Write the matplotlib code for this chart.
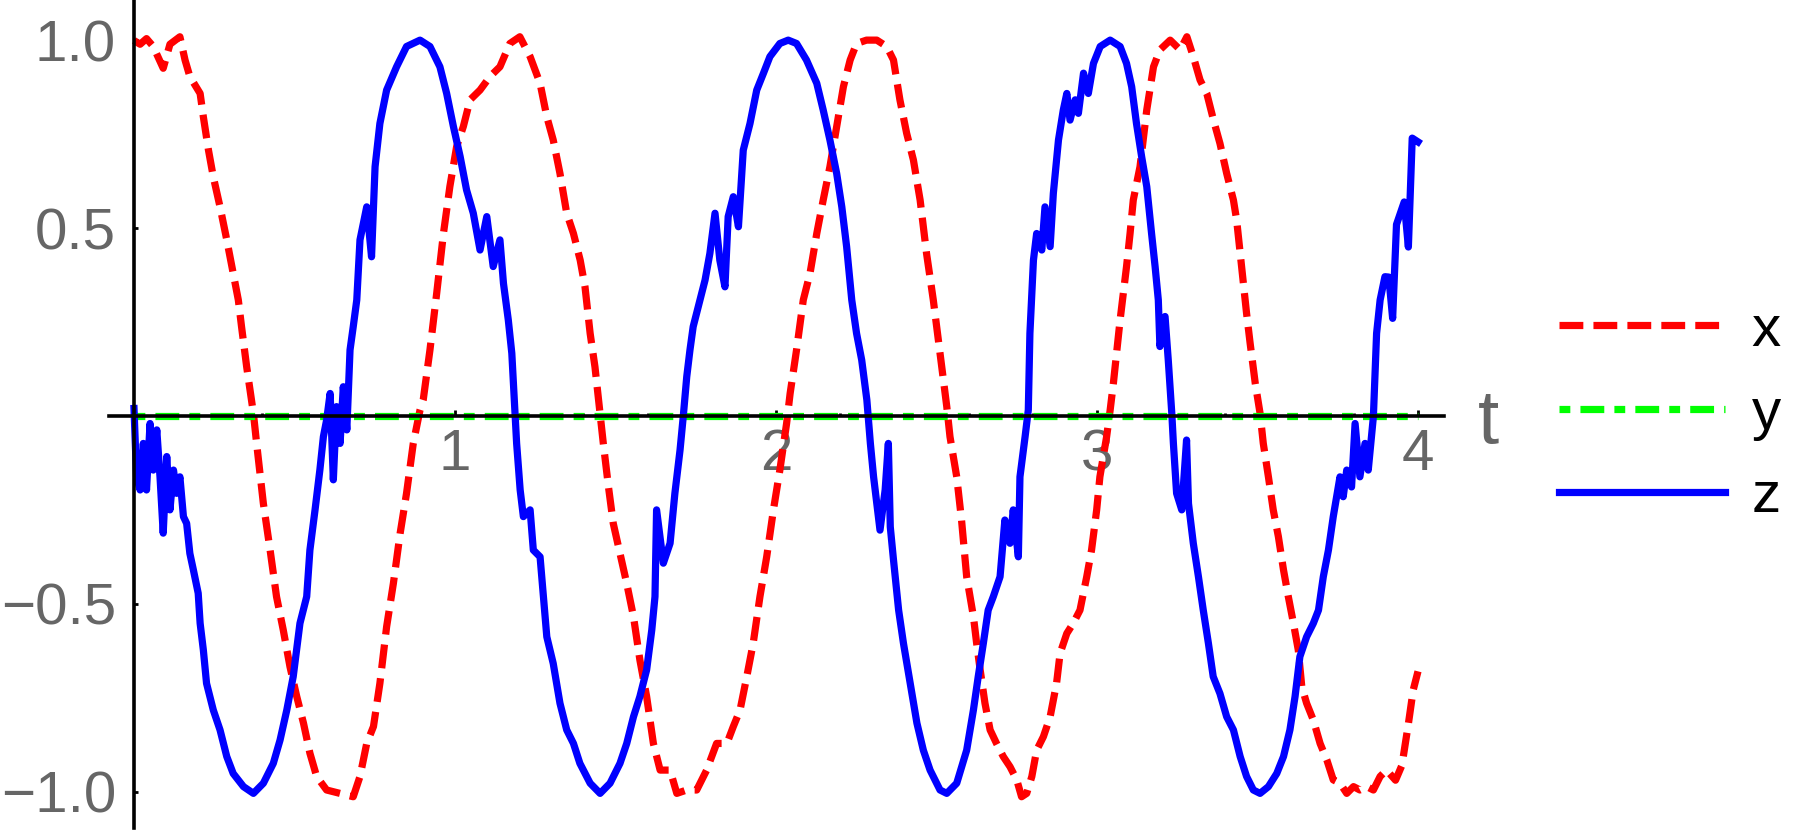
import numpy as np
import matplotlib
matplotlib.use("Agg")
import matplotlib.pyplot as plt
from matplotlib.ticker import MultipleLocator

plt.rcParams['font.family'] = ['Liberation Sans', 'DejaVu Sans']

# x(t): red dashed
x_t = np.array([
    0.000, 0.019, 0.039, 0.060, 0.091, 0.112, 0.143, 0.159, 0.174, 0.206,
    0.216, 0.232, 0.247, 0.268, 0.289, 0.309, 0.325, 0.335, 0.351, 0.372,
    0.382, 0.403, 0.424, 0.444, 0.465, 0.486, 0.507, 0.528, 0.548, 0.569,
    0.600, 0.642, 0.683, 0.704, 0.725, 0.746, 0.766, 0.787, 0.808, 0.829,
    0.849, 0.870, 0.891, 0.901, 0.922, 0.943, 0.964, 0.984, 1.005, 1.026,
    1.047, 1.078, 1.109, 1.140, 1.171, 1.202, 1.234, 1.265, 1.286, 1.306,
    1.327, 1.348, 1.369, 1.390, 1.405, 1.421, 1.436, 1.452, 1.462, 1.478,
    1.493, 1.514, 1.535, 1.556, 1.576, 1.597, 1.618, 1.639, 1.670, 1.691,
    1.722, 1.753, 1.784, 1.815, 1.847, 1.867, 1.888, 1.909, 1.929, 1.950,
    1.971, 1.992, 2.012, 2.033, 2.044, 2.064, 2.085, 2.106, 2.127, 2.147,
    2.168, 2.189, 2.210, 2.231, 2.251, 2.282, 2.314, 2.345, 2.366, 2.386,
    2.407, 2.428, 2.449, 2.469, 2.490, 2.511, 2.532, 2.542, 2.563, 2.578,
    2.594, 2.615, 2.625, 2.636, 2.651, 2.667, 2.687, 2.708, 2.729, 2.750,
    2.765, 2.781, 2.797, 2.812, 2.833, 2.854, 2.874, 2.885, 2.906, 2.926,
    2.947, 2.968, 2.983, 2.999, 3.009, 3.030, 3.041, 3.051, 3.072, 3.092,
    3.103, 3.113, 3.134, 3.155, 3.176, 3.196, 3.228, 3.259, 3.280, 3.300,
    3.321, 3.342, 3.363, 3.383, 3.404, 3.425, 3.435, 3.446, 3.456, 3.466,
    3.477, 3.493, 3.508, 3.518, 3.534, 3.549, 3.565, 3.581, 3.596, 3.612,
    3.627, 3.638, 3.653, 3.674, 3.695, 3.716, 3.736, 3.757, 3.778, 3.799,
    3.819, 3.840, 3.861, 3.882, 3.902, 3.930, 3.950, 3.970, 3.985, 4.000])
x_vals = np.array([
    1.000, 0.990, 1.005, 0.984, 0.926, 0.990, 1.010, 0.948, 0.904, 0.859,
    0.797, 0.708, 0.637, 0.557, 0.469, 0.380, 0.309, 0.238, 0.131, 0.007,
    -0.073, -0.233, -0.357, -0.481, -0.570, -0.668, -0.747, -0.818, -0.898, -0.960,
    -0.996, -1.005, -1.014, -0.960, -0.872, -0.827, -0.712, -0.561, -0.446, -0.313,
    -0.206, -0.073, 0.016, 0.043, 0.176, 0.327, 0.486, 0.611, 0.717, 0.771,
    0.842, 0.868, 0.904, 0.930, 0.992, 1.010, 0.957, 0.886, 0.797, 0.735,
    0.646, 0.540, 0.486, 0.415, 0.344, 0.220, 0.131, 0.007, -0.073, -0.188,
    -0.286, -0.366, -0.446, -0.534, -0.650, -0.747, -0.872, -0.943, -0.943, -1.005,
    -0.996, -0.996, -0.943, -0.872, -0.872, -0.827, -0.783, -0.694, -0.605, -0.481,
    -0.375, -0.250, -0.144, -0.020, 0.060, 0.176, 0.309, 0.380, 0.486, 0.575,
    0.664, 0.771, 0.877, 0.948, 0.992, 1.001, 1.001, 0.984, 0.948, 0.842,
    0.753, 0.682, 0.575, 0.433, 0.309, 0.167, 0.025, -0.055, -0.162, -0.277,
    -0.428, -0.534, -0.605, -0.676, -0.765, -0.836, -0.872, -0.907, -0.934, -0.969,
    -1.014, -1.005, -0.960, -0.890, -0.854, -0.801, -0.712, -0.632, -0.579, -0.552,
    -0.517, -0.428, -0.357, -0.250, -0.162, -0.055, 0.016, 0.087, 0.256, 0.398,
    0.486, 0.575, 0.664, 0.815, 0.930, 0.975, 1.001, 0.975, 1.010, 0.957,
    0.895, 0.859, 0.788, 0.726, 0.646, 0.575, 0.522, 0.433, 0.353, 0.273,
    0.194, 0.087, 0.007, -0.073, -0.162, -0.250, -0.321, -0.410, -0.481, -0.552,
    -0.623, -0.721, -0.765, -0.810, -0.872, -0.916, -0.969, -0.978, -1.005, -0.987,
    -0.996, -0.987, -0.996, -0.960, -0.943, -0.970, -0.930, -0.820, -0.730, -0.680])

# y(t): green dash-dot, stays on zero
y_t = np.array([0.0, 4.0])
y_vals = np.array([0.0, 0.0])

# z(t): blue solid
z_t = np.array([
    0.000, 0.008, 0.019, 0.029, 0.039, 0.050, 0.060, 0.071, 0.081, 0.091,
    0.102, 0.112, 0.123, 0.133, 0.143, 0.154, 0.164, 0.174, 0.185, 0.200,
    0.206, 0.216, 0.226, 0.247, 0.268, 0.289, 0.309, 0.341, 0.372, 0.403,
    0.434, 0.455, 0.476, 0.496, 0.517, 0.538, 0.548, 0.564, 0.579, 0.590,
    0.600, 0.611, 0.621, 0.631, 0.642, 0.652, 0.663, 0.673, 0.683, 0.694,
    0.704, 0.725, 0.740, 0.751, 0.766, 0.787, 0.818, 0.849, 0.891, 0.922,
    0.953, 0.974, 0.995, 1.016, 1.036, 1.057, 1.078, 1.099, 1.119, 1.140,
    1.151, 1.166, 1.177, 1.187, 1.192, 1.203, 1.213, 1.234, 1.244, 1.265,
    1.286, 1.306, 1.327, 1.348, 1.369, 1.389, 1.421, 1.452, 1.483, 1.514,
    1.535, 1.556, 1.576, 1.597, 1.613, 1.623, 1.628, 1.649, 1.670, 1.685,
    1.701, 1.711, 1.722, 1.732, 1.742, 1.763, 1.779, 1.794, 1.810, 1.825,
    1.841, 1.851, 1.867, 1.883, 1.898, 1.919, 1.940, 1.961, 1.981, 2.012,
    2.038, 2.064, 2.095, 2.127, 2.147, 2.168, 2.189, 2.205, 2.220, 2.236,
    2.251, 2.267, 2.283, 2.294, 2.304, 2.324, 2.340, 2.350, 2.356, 2.366,
    2.382, 2.397, 2.418, 2.439, 2.459, 2.480, 2.511, 2.532, 2.563, 2.594,
    2.615, 2.630, 2.646, 2.661, 2.677, 2.698, 2.713, 2.729, 2.739, 2.755,
    2.760, 2.776, 2.786, 2.791, 2.802, 2.812, 2.828, 2.838, 2.854, 2.864,
    2.880, 2.895, 2.906, 2.916, 2.932, 2.942, 2.958, 2.973, 2.989, 3.010,
    3.041, 3.072, 3.092, 3.108, 3.123, 3.139, 3.155, 3.170, 3.181, 3.191,
    3.196, 3.212, 3.222, 3.233, 3.238, 3.248, 3.264, 3.279, 3.285, 3.300,
    3.316, 3.331, 3.347, 3.362, 3.383, 3.404, 3.425, 3.446, 3.466, 3.487,
    3.508, 3.534, 3.560, 3.581, 3.601, 3.617, 3.632, 3.653, 3.674, 3.690,
    3.705, 3.721, 3.736, 3.757, 3.767, 3.778, 3.793, 3.804, 3.819, 3.835,
    3.845, 3.861, 3.871, 3.882, 3.897, 3.909, 3.921, 3.933, 3.957, 3.970,
    3.982, 4.000])
z_vals = np.array([
    0.020, -0.162, -0.197, -0.073, -0.197, -0.020, -0.144, -0.037, -0.162, -0.312,
    -0.108, -0.250, -0.144, -0.206, -0.162, -0.268, -0.286, -0.366, -0.410, -0.472,
    -0.552, -0.623, -0.712, -0.783, -0.836, -0.907, -0.952, -0.987, -1.005, -0.978,
    -0.925, -0.863, -0.783, -0.694, -0.552, -0.481, -0.357, -0.250, -0.144, -0.055,
    -0.011, 0.060, -0.170, 0.025, -0.073, 0.078, -0.037, 0.176, 0.238, 0.309,
    0.469, 0.557, 0.424, 0.664, 0.779, 0.868, 0.930, 0.984, 1.001, 0.984,
    0.930, 0.859, 0.771, 0.691, 0.602, 0.540, 0.442, 0.531, 0.398, 0.469,
    0.353, 0.256, 0.167, 0.007, -0.073, -0.197, -0.268, -0.250, -0.357, -0.375,
    -0.588, -0.659, -0.765, -0.836, -0.872, -0.925, -0.978, -1.005, -0.978, -0.925,
    -0.872, -0.801, -0.747, -0.676, -0.570, -0.481, -0.250, -0.392, -0.339, -0.206,
    -0.091, -0.002, 0.105, 0.176, 0.238, 0.309, 0.362, 0.433, 0.540, 0.415,
    0.344, 0.531, 0.584, 0.504, 0.708, 0.779, 0.868, 0.913, 0.957, 0.992,
    1.001, 0.992, 0.948, 0.886, 0.815, 0.735, 0.646, 0.557, 0.451, 0.309,
    0.220, 0.149, 0.043, -0.073, -0.162, -0.304, -0.197, -0.073, -0.295, -0.383,
    -0.517, -0.605, -0.712, -0.818, -0.890, -0.943, -0.996, -1.005, -0.978, -0.890,
    -0.783, -0.694, -0.605, -0.517, -0.481, -0.428, -0.277, -0.339, -0.250, -0.375,
    -0.162, -0.055, 0.016, 0.220, 0.415, 0.486, 0.442, 0.557, 0.451, 0.593,
    0.735, 0.815, 0.859, 0.788, 0.842, 0.806, 0.913, 0.859, 0.939, 0.984,
    1.001, 0.984, 0.939, 0.877, 0.779, 0.691, 0.611, 0.486, 0.398, 0.309,
    0.185, 0.265, 0.149, 0.007, -0.073, -0.206, -0.250, -0.064, -0.233, -0.339,
    -0.428, -0.517, -0.605, -0.694, -0.739, -0.801, -0.836, -0.907, -0.960, -0.996,
    -1.005, -0.987, -0.952, -0.907, -0.836, -0.747, -0.641, -0.588, -0.552, -0.517,
    -0.428, -0.357, -0.268, -0.162, -0.215, -0.144, -0.189, -0.020, -0.162, -0.073,
    -0.144, -0.002, 0.220, 0.309, 0.371, 0.370, 0.260, 0.510, 0.570, 0.450,
    0.740, 0.730])

y_ticks = [-1.0, -0.5, 0.5, 1.0]
y_labels = ['\u22121.0', '\u22120.5', '0.5', '1.0']
t_ticks = [1, 2, 3, 4]
t_labels = ['1', '2', '3', '4']
series_names = ['x', 'y', 'z']

W, H = 1802, 834
fig = plt.figure(figsize=(W / 100, H / 100), dpi=100)
ax = fig.add_axes([109 / W, 6 / H, 1335 / W, 828 / H])

lw = 5.2
ax.plot(x_t, x_vals, color='#ff0000', lw=lw, dashes=(3.3, 1.4),
        solid_joinstyle='round', label=series_names[0])
ax.plot(y_t, y_vals, color='#00ff00', lw=lw, dashes=(1.5, 1.4, 3.3, 1.4),
        label=series_names[1])
ax.plot(z_t, z_vals, color='#0000ff', lw=lw, solid_joinstyle='round',
        label=series_names[2])

ax.set_xlim(-25 / 321, 1310 / 321)
ax.set_ylim((416 - 828) / 375.5, 416 / 375.5)

for side in ['top', 'right']:
    ax.spines[side].set_visible(False)
ax.spines['left'].set_position(('data', 0))
ax.spines['bottom'].set_position(('data', 0))
for side in ['left', 'bottom']:
    ax.spines[side].set_linewidth(2.6)
    ax.spines[side].set_zorder(3)

ax.set_xticks(t_ticks)
ax.set_xticklabels(t_labels)
ax.set_yticks(y_ticks)
ax.set_yticklabels(y_labels)
ax.xaxis.set_minor_locator(MultipleLocator(0.2))

ax.tick_params(axis='both', which='both', direction='in', color='black',
               labelcolor='#666666', labelsize=42, width=2)
ax.tick_params(axis='x', which='major', length=4, pad=9)
ax.tick_params(axis='x', which='minor', length=2.5)
ax.tick_params(axis='y', which='major', length=3, pad=13)

ax.annotate('t', xy=(1, 0), xycoords=('axes fraction', 'data'),
            xytext=(24.5, -19.4), textcoords='offset points',
            ha='left', va='baseline', fontsize=55, color='#666666',
            annotation_clip=False)

ax.legend(loc='center left', bbox_to_anchor=(1559 / W, 1 - 414 / H),
          bbox_transform=fig.transFigure, frameon=False, fontsize=42,
          handlelength=2.85, handletextpad=0.45, labelspacing=0.5,
          borderpad=0, borderaxespad=0)

fig.savefig('out.png', dpi=100)
